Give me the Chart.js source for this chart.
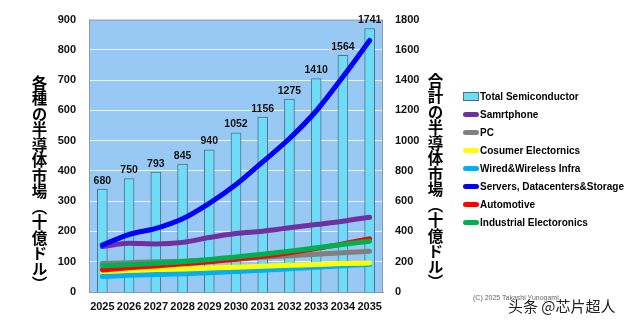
<!DOCTYPE html>
<html><head><meta charset="utf-8">
<script src="https://cdn.jsdelivr.net/npm/chart.js@4"></script>
<style>
html,body{margin:0;padding:0;background:#fff;width:640px;height:322px;overflow:hidden;position:relative;font-family:"Liberation Sans",Arial,sans-serif;}
#c{position:absolute;left:0;top:0;}
.vt{position:absolute;writing-mode:vertical-rl;font-family:"Noto Sans CJK JP","Noto Sans CJK SC",sans-serif;font-weight:bold;font-size:15.5px;line-height:1;color:#000;white-space:nowrap;}
#legend{position:absolute;left:463px;top:87px;font:bold 10px "Liberation Sans",Arial,sans-serif;color:#000;}
.li{height:18px;display:flex;align-items:center;white-space:nowrap;}
.sw{width:16px;height:5px;border-radius:3px;margin-right:1px;}
.bx{width:14px;height:7px;border:1px solid #4f6f86;margin-right:1px;}
#copy{position:absolute;left:473px;top:294px;font:7px "Liberation Sans",Arial,sans-serif;color:#666;}
#wm{position:absolute;left:508px;top:295px;font:15px "Noto Sans CJK SC",sans-serif;color:#222;text-shadow:0 0 2px #fff,0 0 2px #fff;}
</style></head>
<body>
<canvas id="c" width="640" height="322"></canvas>
<div class="vt" style="left:31px;top:75px;">各種の半導体市場（十億ドル）</div>
<div class="vt" style="left:427px;top:73px;">合計の半導体市場（十億ドル）</div>
<div id="legend"></div>
<div id="copy">(C) 2025 Takashi Yunogami</div>
<div id="wm">头条 @芯片超人</div>
<script>
const years = ['2025','2026','2027','2028','2029','2030','2031','2032','2033','2034','2035'];
const totalSemi  = [680, 750, 793, 845, 940, 1052, 1156, 1275, 1410, 1564, 1741];
const smartphone = [150, 161, 159, 164, 180, 193, 201, 212, 223, 234, 247];
const pc         = [94, 97, 100, 102, 106, 110, 115, 120, 125, 130, 135];
const consumer   = [68, 71, 74, 76, 79, 82, 85, 88, 91, 94, 96];
const infra      = [51, 55, 58, 60, 64, 68, 72, 77, 82, 87, 91];
const servers    = [155, 190, 210, 242, 293, 355, 430, 507, 598, 711, 831];
const automotive = [73, 80, 86, 93, 100, 108, 118, 130, 144, 159, 176];
const industrial = [86, 90, 95, 100, 107, 116, 125, 135, 146, 157, 168];
const leftTicks  = [0, 100, 200, 300, 400, 500, 600, 700, 800, 900];
const rightTicks = [0, 200, 400, 600, 800, 1000, 1200, 1400, 1600, 1800];

Chart.defaults.font.family = '"Liberation Sans", Arial, sans-serif';

function line(label, data, color, order) {
  return {type:'line', label, data, borderColor:color, backgroundColor:color, borderWidth:5,
    pointRadius:0, cubicInterpolationMode:'monotone', yAxisID:'y', order,
    borderCapStyle:'round', borderJoinStyle:'round', fill:false};
}

const datasets = [
  {type:'bar', label:'Total Semiconductor', data: totalSemi, yAxisID:'y2', backgroundColor:'#6edcf6',
   borderColor:'#4f6f86', borderWidth:1, barThickness:10, order:20},
  line('Samrtphone', smartphone, '#7030a0', 6),
  line('PC', pc, '#808080', 8),
  line('Cosumer Electornics', consumer, '#ffff00', 4),
  line('Wired&Wireless Infra', infra, '#00b0f0', 5),
  line('Servers, Datacenters&Storage', servers, '#0000ff', 1),
  line('Automotive', automotive, '#ff0000', 3),
  line('Industrial Electoronics', industrial, '#00b050', 2)
];

const bgPlugin = {
  id:'bg',
  beforeDraw(chart){
    const {ctx, chartArea:a} = chart;
    ctx.save();
    ctx.fillStyle = '#98c9f4';
    ctx.fillRect(a.left, a.top, a.right-a.left, a.bottom-a.top);
    ctx.restore();
  },
  beforeDatasetsDraw(chart){
    const {ctx, chartArea:a} = chart;
    ctx.save();
    ctx.strokeStyle = '#8a9aa8';
    ctx.lineWidth = 1;
    ctx.strokeRect(a.left+0.5, a.top+0.5, a.right-a.left-1, a.bottom-a.top);
    ctx.restore();
  }
};

const labelPlugin = {
  id:'barLabels',
  afterDatasetsDraw(chart){
    const {ctx} = chart;
    const meta = chart.getDatasetMeta(0);
    ctx.save();
    ctx.font = 'bold 10.5px "Liberation Sans", Arial, sans-serif';
    ctx.fillStyle = '#111';
    ctx.textAlign = 'center';
    ctx.textBaseline = 'bottom';
    meta.data.forEach((bar, i) => {
      ctx.fillText(String(totalSemi[i]), bar.x, bar.y - 3);
    });
    ctx.restore();
  }
};

const tickFont = {size:11, weight:'bold'};
const plain = v => String(v);
const chart = new Chart(document.getElementById('c'), {
  data:{labels: years, datasets},
  options:{
    responsive:false, animation:false, devicePixelRatio:1,
    layout:{padding:{top:9, bottom:0, left:0, right:0}},
    plugins:{legend:{display:false}, tooltip:{enabled:false}},
    scales:{
      x:{offset:true, grid:{display:false, drawTicks:false}, border:{display:true, color:'#8a9aa8'},
         ticks:{font:tickFont, color:'#111', padding:8, maxRotation:0, autoSkip:false},
         afterFit(s){ s.height = 30; }},
      y:{position:'left', min:0, max:900,
         afterBuildTicks(s){ s.ticks = leftTicks.map(v=>({value:v})); },
         ticks:{font:tickFont, color:'#111', padding:13, callback: plain},
         grid:{color:'rgba(255,255,255,0.8)', drawTicks:false},
         border:{display:true, color:'#8a9aa8'},
         afterFit(s){ s.width = 89; }},
      y2:{position:'right', min:0, max:1800,
         afterBuildTicks(s){ s.ticks = rightTicks.map(v=>({value:v})); },
         ticks:{font:tickFont, color:'#111', padding:12, callback: plain},
         grid:{display:false, drawTicks:false}, border:{display:false},
         afterFit(s){ s.width = 257; }}
    }
  },
  plugins:[bgPlugin, labelPlugin]
});

const lg = document.getElementById('legend');
datasets.forEach(d => {
  const row = document.createElement('div'); row.className='li';
  const sw = document.createElement('div');
  if (d.type === 'bar') { sw.className='bx'; sw.style.background = d.backgroundColor; }
  else { sw.className='sw'; sw.style.background = d.borderColor; }
  const t = document.createElement('span'); t.textContent = d.label;
  row.appendChild(sw); row.appendChild(t); lg.appendChild(row);
});
</script>
</body></html>
